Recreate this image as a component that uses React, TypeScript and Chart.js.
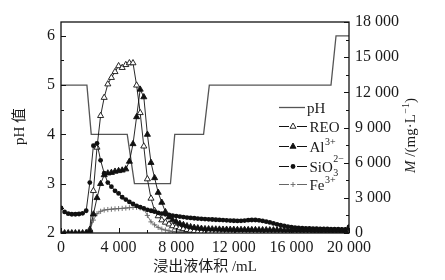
import React, { useEffect, useRef } from 'react';
import { Chart, registerables } from 'chart.js';

Chart.register(...registerables);

// ---------- data ----------
const VOLUME = [
  0, 250, 500, 750, 1000, 1250, 1500, 1750, 2000, 2250,
  2500, 2750, 3000, 3250, 3500, 3750, 4000, 4250, 4500, 4750,
  5000, 5250, 5500, 5750, 6000, 6250, 6500, 6750, 7000, 7250,
  7500, 7750, 8000, 8250, 8500, 8750, 9000, 9250, 9500, 9750,
  10000, 10250, 10500, 10750, 11000, 11250, 11500, 11750, 12000, 12250,
  12500, 12750, 13000, 13250, 13500, 13750, 14000, 14250, 14500, 14750,
  15000, 15250, 15500, 15750, 16000, 16250, 16500, 16750, 17000, 17250,
  17500, 17750, 18000, 18250, 18500, 18750, 19000, 19250, 19500, 19750,
  20000,
];

const PH_VOLUME = [0, 1800, 2100, 4600, 5100, 7600, 7900, 9900, 10300, 18750, 19100, 20000];
const PH_VALUES = [5, 5, 4, 4, 3, 3, 4, 4, 5, 5, 6, 6];

const REO = [
  null, null, null, null, null, null, null, 0, 300, 3600,
  7300, 10000, 11550, 12700, 13250, 13750, 14250, 14100, 14350, 14500,
  14500, 12600, 10250, 7400, 4600, 2950, 1900, 1450, 1100, 900,
  750, 600, 500, 420, 350, 280, 220, 170, 130, 100,
  80, 70, 60, 55, 50, 50, 45, 45, 40, 40,
  40, 35, 35, 35, 30, 30, 30, 30, 30, 30,
  30, 25, 25, 25, 25, 25, 25, 25, 25, 25,
  25, 20, 20, 20, 20, 20, 20, 20, 20, 20,
  20,
];

const AL = [
  0, 0, 0, 0, 0, 0, 0, 0, 200, 1600,
  3000, 4200, 4950, 5100, 5150, 5250, 5300, 5350, 5450, 6100,
  7600, 9900, 12250, 11600, 8400, 6000, 4700, 3450, 2600, 1800,
  1350, 1100, 950, 800, 700, 600, 520, 460, 420, 380,
  350, 340, 330, 320, 310, 300, 300, 290, 290, 280,
  280, 280, 270, 270, 270, 260, 260, 260, 250, 250,
  250, 250, 240, 240, 240, 240, 230, 230, 230, 230,
  220, 220, 220, 220, 210, 210, 210, 210, 200, 200,
  420,
];

const SIO3 = [
  2150, 1800, 1650, 1600, 1600, 1620, 1680, 1900, 4300, 7450,
  7650, 6200, 5100, 4300, 3950, 3600, 3380, 3050, 2850, 2650,
  2480, 2320, 2200, 2100, 1980, 1900, 1820, 1720, 1660, 1600,
  1540, 1480, 1440, 1400, 1360, 1320, 1290, 1260, 1230, 1210,
  1190, 1170, 1150, 1130, 1115, 1100, 1080, 1060, 1045, 1030,
  1040, 1060, 1090, 1110, 1110, 1080, 1030, 970, 900, 820,
  740, 660, 600, 550, 500, 460, 430, 410, 400, 390,
  380, 370, 360, 350, 340, 330, 320, 320, 310, 310,
  520,
];

const FE = [
  null, null, null, null, null, null, null, null, 200, 1100,
  1650, 1850, 1960, 2000, 2030, 2060, 2080, 2100, 2130, 2160,
  2190, 2190, 2150, 2050, 1500, 950, 700, 480, 330, 250,
  180, 130, 100, 80, 70, 60, 50, 45, 40, 35,
  30,
];

const X_TICKS = [0, 4000, 8000, 12000, 16000, 20000];
const PH_TICKS = [2, 3, 4, 5, 6];
const M_TICKS = [0, 3000, 6000, 9000, 12000, 15000, 18000];

// ---------- styling ----------
const SERIF = "'Liberation Serif', 'Times New Roman', 'DejaVu Serif', 'Noto Sans CJK SC', serif";
const INK = '#1a1a1a';

function fmt(v: number): string {
  if (v >= 1000) {
    const th = Math.floor(v / 1000);
    const rest = String(v % 1000).padStart(3, '0');
    return th + ' ' + rest;
  }
  return String(v);
}

function midpoints(arr: number[]): number[] {
  const out: number[] = [];
  for (let i = 0; i < arr.length - 1; i++) out.push((arr[i] + arr[i + 1]) / 2);
  return out;
}

const framePlugin = {
  id: 'frameTicks',
  afterDatasetsDraw(chart: any) {
    const { ctx, chartArea: a, scales } = chart;
    ctx.save();
    ctx.strokeStyle = '#111';
    ctx.lineWidth = 1.3;
    ctx.strokeRect(a.left, a.top, a.right - a.left, a.bottom - a.top);
    ctx.lineWidth = 1;
    const seg = (x1: number, y1: number, x2: number, y2: number) => {
      ctx.beginPath();
      ctx.moveTo(x1, y1);
      ctx.lineTo(x2, y2);
      ctx.stroke();
    };
    const xs = scales.x;
    X_TICKS.forEach((v) => { const p = Math.round(xs.getPixelForValue(v)) + 0.5; seg(p, a.bottom, p, a.bottom - 5); });
    midpoints(X_TICKS).forEach((v) => { const p = Math.round(xs.getPixelForValue(v)) + 0.5; seg(p, a.bottom, p, a.bottom - 3); });
    const yl = scales.yPH;
    PH_TICKS.forEach((v) => { const p = Math.round(yl.getPixelForValue(v)) + 0.5; seg(a.left, p, a.left + 5, p); });
    midpoints(PH_TICKS).forEach((v) => { const p = Math.round(yl.getPixelForValue(v)) + 0.5; seg(a.left, p, a.left + 3, p); });
    const yr = scales.yM;
    M_TICKS.forEach((v) => { const p = Math.round(yr.getPixelForValue(v)) + 0.5; seg(a.right, p, a.right - 5, p); });
    midpoints(M_TICKS).forEach((v) => { const p = Math.round(yr.getPixelForValue(v)) + 0.5; seg(a.right, p, a.right - 3, p); });
    ctx.restore();
  },
};

function drawMarker(ctx: CanvasRenderingContext2D, kind: string, x: number, y: number) {
  ctx.save();
  ctx.lineWidth = 0.9;
  ctx.strokeStyle = '#111';
  if (kind === 'triOpen' || kind === 'triFill') {
    const r = 3.5;
    ctx.beginPath();
    ctx.moveTo(x, y - r);
    ctx.lineTo(x + r * 0.866, y + r * 0.5);
    ctx.lineTo(x - r * 0.866, y + r * 0.5);
    ctx.closePath();
    ctx.fillStyle = kind === 'triOpen' ? '#fff' : '#111';
    ctx.fill();
    ctx.stroke();
  } else if (kind === 'circle') {
    ctx.beginPath();
    ctx.arc(x, y, 2.4, 0, Math.PI * 2);
    ctx.fillStyle = '#111';
    ctx.fill();
  } else if (kind === 'cross') {
    ctx.strokeStyle = '#666';
    ctx.beginPath();
    ctx.moveTo(x - 2.5, y); ctx.lineTo(x + 2.5, y);
    ctx.moveTo(x, y - 2.5); ctx.lineTo(x, y + 2.5);
    ctx.stroke();
  }
  ctx.restore();
}

type Piece = { t: string; kind?: 'sup' | 'sub' | 'supsub' | 'it'; sub?: string };

function drawPieces(ctx: CanvasRenderingContext2D, pieces: Piece[], x: number, baseline: number, size: number) {
  let cx = x;
  const small = Math.round(size * 0.66);
  for (const p of pieces) {
    if (!p.kind || p.kind === 'it') {
      ctx.font = (p.kind === 'it' ? 'italic ' : '') + size + 'px ' + SERIF;
      ctx.fillText(p.t, cx, baseline);
      cx += ctx.measureText(p.t).width;
    } else if (p.kind === 'sup') {
      ctx.font = small + 'px ' + SERIF;
      ctx.fillText(p.t, cx + 0.5, baseline - size * 0.42);
      cx += ctx.measureText(p.t).width + 0.5;
    } else if (p.kind === 'supsub') {
      ctx.font = small + 'px ' + SERIF;
      ctx.fillText(p.t, cx + 0.5, baseline - size * 0.62);
      ctx.fillText(p.sub || '', cx + 0.5, baseline + size * 0.28);
      cx += Math.max(ctx.measureText(p.t).width, ctx.measureText(p.sub || '').width) + 0.5;
    }
  }
  return cx - x;
}

function measurePieces(ctx: CanvasRenderingContext2D, pieces: Piece[], size: number) {
  let w = 0;
  const small = Math.round(size * 0.66);
  for (const p of pieces) {
    if (!p.kind || p.kind === 'it') {
      ctx.font = (p.kind === 'it' ? 'italic ' : '') + size + 'px ' + SERIF;
      w += ctx.measureText(p.t).width;
    } else {
      ctx.font = small + 'px ' + SERIF;
      w += ctx.measureText(p.t).width + 0.5;
    }
  }
  return w;
}

const LEGEND: { marker: string; pieces: Piece[]; dy: number }[] = [
  { marker: 'none', pieces: [{ t: 'pH' }], dy: 107.5 },
  { marker: 'triOpen', pieces: [{ t: 'REO' }], dy: 126.5 },
  { marker: 'triFill', pieces: [{ t: 'Al' }, { t: '3+', kind: 'sup' }], dy: 146.5 },
  { marker: 'circle', pieces: [{ t: 'SiO' }, { t: '2\u2212', kind: 'supsub', sub: '3' }], dy: 166.5 },
  { marker: 'cross', pieces: [{ t: 'Fe' }, { t: '3+', kind: 'sup' }], dy: 184.5 },
];

const textPlugin = {
  id: 'texts',
  afterDraw(chart: any) {
    const { ctx, chartArea: a } = chart;
    ctx.save();
    ctx.fillStyle = INK;
    ctx.textAlign = 'left';
    ctx.textBaseline = 'alphabetic';

    // legend
    LEGEND.forEach((e) => {
      const y = e.dy;
      ctx.strokeStyle = e.marker === 'none' ? '#555' : (e.marker === 'cross' ? '#666' : '#111');
      ctx.lineWidth = e.marker === 'none' ? 1.3 : 1;
      ctx.beginPath();
      if (e.marker === 'none') {
        ctx.moveTo(279, y); ctx.lineTo(305, y);
      } else {
        ctx.moveTo(279, y); ctx.lineTo(289, y);
        ctx.moveTo(297, y); ctx.lineTo(307, y);
      }
      ctx.stroke();
      if (e.marker !== 'none') drawMarker(ctx, e.marker, 293, y);
      ctx.fillStyle = INK;
      drawPieces(ctx, e.pieces, e.marker === 'none' ? 307 : 309.5, y + 5, 15);
    });

    // x title
    ctx.font = '15px ' + SERIF;
    ctx.textAlign = 'center';
    ctx.fillText('浸出液体积 /mL', (a.left + a.right) / 2, 271);

    // left title
    ctx.save();
    ctx.translate(19, (a.top + a.bottom) / 2 - 1);
    ctx.rotate(-Math.PI / 2);
    ctx.textAlign = 'center';
    ctx.font = '15px ' + SERIF;
    ctx.fillText('pH 值', 0, 5);
    ctx.restore();

    // right title
    ctx.save();
    ctx.translate(410, (a.top + a.bottom) / 2 + 8);
    ctx.rotate(-Math.PI / 2);
    ctx.textAlign = 'left';
    const pieces: Piece[] = [
      { t: 'M', kind: 'it' },
      { t: ' /(mg\u00b7L' },
      { t: '\u22121', kind: 'sup' },
      { t: ')' },
    ];
    const w = measurePieces(ctx, pieces, 15);
    drawPieces(ctx, pieces, -w / 2, 5, 15);
    ctx.restore();

    ctx.restore();
  },
};

export default function App() {
  const ref = useRef<HTMLCanvasElement | null>(null);

  useEffect(() => {
    if (!ref.current) return;
    Chart.defaults.font.family = SERIF;
    Chart.defaults.font.size = 16;
    Chart.defaults.color = INK;

    const pts = (vals: (number | null)[]) =>
      vals.map((y, i) => ({ x: VOLUME[i], y }));

    const chart = new Chart(ref.current, {
      type: 'line',
      data: {
        datasets: [
          {
            label: 'pH',
            data: PH_VOLUME.map((v, i) => ({ x: v, y: PH_VALUES[i] })),
            yAxisID: 'yPH',
            borderColor: '#555',
            borderWidth: 1.3,
            pointRadius: 0,
            tension: 0,
            order: 5,
          },
          {
            label: 'REO',
            data: pts(REO),
            yAxisID: 'yM',
            borderColor: '#111',
            borderWidth: 0.9,
            pointStyle: 'triangle',
            pointRadius: 3.5,
            pointBackgroundColor: '#fff',
            pointBorderColor: '#111',
            pointBorderWidth: 0.9,
            tension: 0,
            order: 3,
          },
          {
            label: 'Al',
            data: pts(AL),
            yAxisID: 'yM',
            borderColor: '#111',
            borderWidth: 0.9,
            pointStyle: 'triangle',
            pointRadius: 3.5,
            pointBackgroundColor: '#111',
            pointBorderColor: '#111',
            pointBorderWidth: 0.9,
            tension: 0,
            order: 1,
          },
          {
            label: 'SiO3',
            data: pts(SIO3),
            yAxisID: 'yM',
            borderColor: '#111',
            borderWidth: 0.9,
            pointStyle: 'circle',
            pointRadius: 2.4,
            pointBackgroundColor: '#111',
            pointBorderColor: '#111',
            pointBorderWidth: 0,
            tension: 0,
            order: 2,
          },
          {
            label: 'Fe',
            data: pts(FE),
            yAxisID: 'yM',
            borderColor: '#666',
            borderWidth: 0.9,
            pointStyle: 'cross',
            pointRadius: 2.6,
            pointBorderColor: '#666',
            pointBorderWidth: 0.9,
            tension: 0,
            order: 4,
          },
        ],
      },
      options: {
        responsive: false,
        animation: false,
        devicePixelRatio: 1,
        layout: { padding: { top: 22, left: 0, right: 0, bottom: 0 } },
        plugins: { legend: { display: false }, tooltip: { enabled: false } },
        scales: {
          x: {
            type: 'linear',
            position: 'bottom',
            min: 0,
            max: 20000,
            afterBuildTicks: (s: any) => { s.ticks = X_TICKS.map((v) => ({ value: v })); },
            afterFit: (s: any) => { s.height = 47; },
            grid: { display: false, drawTicks: false },
            border: { display: false },
            ticks: {
              callback: (v: any) => fmt(Number(v)),
              padding: 5,
              maxRotation: 0,
              autoSkip: false,
              color: INK,
              font: { size: 16, family: SERIF },
            },
          },
          yPH: {
            type: 'linear',
            position: 'left',
            min: 2,
            max: 6.28,
            afterBuildTicks: (s: any) => { s.ticks = PH_TICKS.map((v) => ({ value: v })); },
            afterFit: (s: any) => { s.width = 61; },
            grid: { display: false, drawTicks: false },
            border: { display: false },
            ticks: { padding: 6, color: INK, font: { size: 16, family: SERIF } },
          },
          yM: {
            type: 'linear',
            position: 'right',
            min: 0,
            max: 18000,
            afterBuildTicks: (s: any) => { s.ticks = M_TICKS.map((v) => ({ value: v })); },
            afterFit: (s: any) => { s.width = 96; },
            grid: { display: false, drawTicks: false },
            border: { display: false },
            ticks: {
              callback: (v: any) => fmt(Number(v)),
              padding: 6,
              color: INK,
              font: { size: 16, family: SERIF },
            },
          },
        },
      },
      plugins: [framePlugin, textPlugin],
    } as any);

    return () => chart.destroy();
  }, []);

  return (
    <div style={{ position: 'fixed', left: 0, top: 0, width: 445, height: 280, background: '#fff' }}>
      <canvas ref={ref} width={445} height={280} style={{ width: 445, height: 280, display: 'block' }} />
    </div>
  );
}
